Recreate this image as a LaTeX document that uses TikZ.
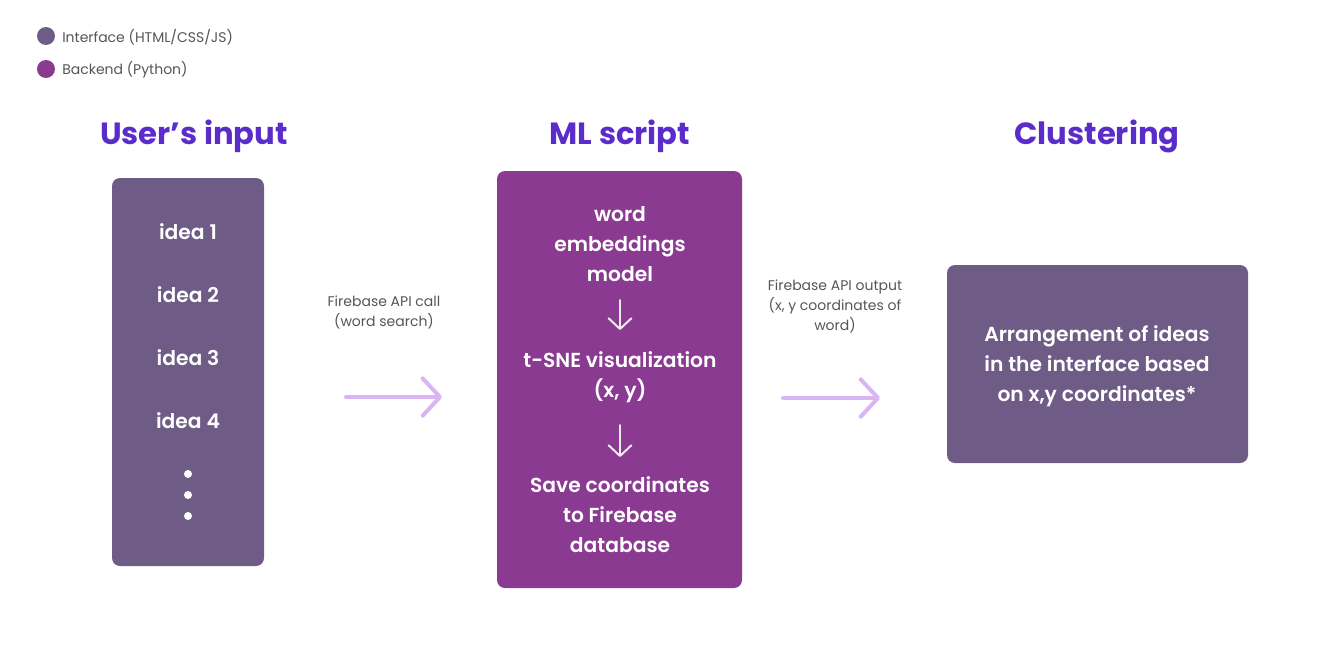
\documentclass[tikz,border=0pt]{standalone}
\usepackage{fontspec}
\setmainfont{Poppins}[BoldFont={Poppins SemiBold}]
\newfontfamily\headfont{Poppins}[BoldFont={Poppins Bold}]
\usetikzlibrary{arrows.meta}
\definecolor{ifacecol}{HTML}{6E5C87}
\definecolor{backcol}{HTML}{8B3A91}
\definecolor{headcol}{HTML}{5A2DCB}
\definecolor{flowcol}{HTML}{D9B5F4}
\definecolor{notecol}{HTML}{555555}
\tikzset{
  heading/.style={text=headcol,font=\headfont\fontsize{23}{26}\selectfont\bfseries},
  panel/.style={rounded corners=6pt,draw=none,inner sep=0pt},
  boxtext/.style={text=white,font=\fontsize{15.2}{22.5}\selectfont\bfseries,align=center,inner sep=0pt},
  note/.style={text=notecol,font=\fontsize{10.5}{15}\selectfont,align=center,inner sep=0pt},
  legend/.style={text=notecol,font=\fontsize{10.5}{12}\selectfont,anchor=west,inner sep=0pt},
  flow/.style={flowcol,line width=3pt,line cap=round,-{Straight Barb[length=13pt,width=28pt,line width=3pt,round]}},
  inner/.style={white!86!gray,line width=1.5pt,line cap=round,-{Straight Barb[length=8pt,width=17pt,line width=1.5pt,round]}},
}
\begin{document}
\begin{tikzpicture}[x=0.75pt,y=-0.75pt]
    \useasboundingbox (0,0) rectangle (1328,664);
    % legend
    \fill[ifacecol] (46,36) circle (9);
    \fill[backcol] (46,69) circle (9);
    \node[legend] (L0) at (62,37) {Interface (HTML/CSS/JS)};
    \node[legend] (L1) at (62,70) {Backend (Python)};
    % headings
    \node[heading] (H0) at (194,136) {User’s input};
    \node[heading] (H1) at (620,136) {ML script};
    \node[heading] (H2) at (1097,136) {Clustering};
    % boxes
    \fill[ifacecol,panel] (112,178) rectangle (264,566);
    \fill[backcol,panel] (497,171) rectangle (742,588);
    \fill[ifacecol,panel] (947,265) rectangle (1248,463);
    % user's input
    \foreach \i/\yy in {1/232,2/295,3/358,4/421}
      \node[boxtext] (I\i) at (188,\yy) {idea \i};
    \foreach \yy in {474,495,516}
      \fill[white] (188,\yy) circle (4);
    % ml script
    \node[boxtext] (M0) at (620,244) {word\\embeddings\\model};
    \node[boxtext] (M1) at (620,377) {t-SNE visualization\\(x, y)};
    \node[boxtext] (M2) at (620,515) {Save coordinates\\to Firebase\\database};
    \coordinate (D0) at (620,300);
    \coordinate (D1) at (620,330);
    \coordinate (D2) at (620,425);
    \coordinate (D3) at (620,457);
    \path (D0) edge [inner] (D1);
    \path (D2) edge [inner] (D3);
    % clustering
    \node[boxtext] (C0) at (1097,366) {Arrangement of ideas\\in the interface based\\on x,y coordinates*};
    % flows
    \node[note] (N0) at (384,312) {Firebase API call\\(word search)};
    \node[note] (N1) at (835,306) {Firebase API output\\(x, y coordinates of\\word)};
    \coordinate (F0) at (346,397);
    \coordinate (F1) at (442,397);
    \coordinate (F2) at (783,398);
    \coordinate (F3) at (880,398);
    \path (F0) edge [flow] (F1);
    \path (F2) edge [flow] (F3);
\end{tikzpicture}
\end{document}
